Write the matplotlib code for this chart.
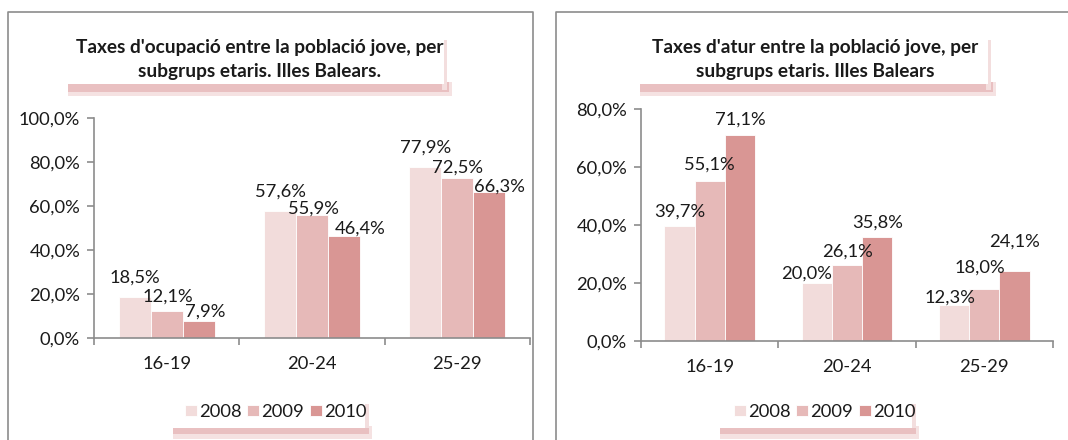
import matplotlib
matplotlib.use("Agg")
import matplotlib.pyplot as plt
import numpy as np
from matplotlib.patches import Rectangle

plt.rcParams['font.family'] = ['Lato', 'DejaVu Sans']

categories = ["16-19", "20-24", "25-29"]
years = ["2008", "2009", "2010"]
ocup_2008 = [18.5, 57.6, 77.9]
ocup_2009 = [12.1, 55.9, 72.5]
ocup_2010 = [7.9, 46.4, 66.3]
atur_2008 = [39.7, 20.0, 12.3]
atur_2009 = [55.1, 26.1, 18.0]
atur_2010 = [71.1, 35.8, 24.1]
title_ocup = "Taxes d'ocupació entre la població jove, per\nsubgrups etaris. Illes Balears."
title_atur = "Taxes d'atur entre la població jove, per\nsubgrups etaris. Illes Balears"

# label nudges (pixels) per series, per category -- layout only
ocup_label_dx = [[0, 0, 0], [1, 1, 0], [7, 16, 10]]
ocup_label_dy = [[15, 15, 14], [10, 1, 6], [4, 2, 1]]
atur_label_dx = [[0, -10, -4], [0, 0, -4], [0, 0, 0]]
atur_label_dy = [[9, 4, 3], [12, 9, 16], [10, 10, 24]]

colors = ["#f2dcdb", "#e6b9b8", "#d99694"]
W, H = 1068, 440
FS = 13.2
fig = plt.figure(figsize=(W / 100, H / 100), dpi=100)

bg = fig.add_axes([0, 0, 1, 1], zorder=0)
bg.set_xlim(0, W)
bg.set_ylim(H, 0)
bg.axis("off")

border = "#8c8c8c"
bg.plot([8, 8, 533, 533], [H + 5, 12, 12, H + 5], color=border, lw=1.2)
bg.plot([556, 556, W + 5], [H + 5, 12, 12], color=border, lw=1.2)


def shadow_box(x0, x1, y0, y1):
    bg.add_patch(Rectangle((x0, y1 - 2), x1 - x0 + 6, 14, color="#f5e2e2", lw=0, zorder=1))
    bg.add_patch(Rectangle((x0, y1 - 2), x1 - x0 + 3, 10, color="#e9c0c1", lw=0, zorder=1))
    bg.add_patch(Rectangle((x1 - 4, y0 + 6), 5, y1 - y0, color="#f3dede", lw=0, zorder=1))
    bg.add_patch(Rectangle((x0 - 2, y0), x1 - x0, y1 - y0, color="white", lw=0, zorder=2))


shadow_box(68, 446, 34, 84)
shadow_box(640, 990, 34, 84)
bg.text(260, 60, title_ocup, ha="center", va="center", fontsize=13.7, fontweight="bold",
        linespacing=1.5, color="#1a1a1a", zorder=3)
bg.text(815, 60, title_atur, ha="center", va="center", fontsize=13.7, fontweight="bold",
        linespacing=1.5, color="#1a1a1a", zorder=3)

for lx0, lx1 in [(173, 368), (720, 915)]:
    bg.add_patch(Rectangle((lx0, 426), lx1 - lx0 + 4, 13, color="#f5e2e2", lw=0, zorder=1))
    bg.add_patch(Rectangle((lx0, 426), lx1 - lx0 + 1, 8, color="#e9c0c1", lw=0, zorder=1))
    bg.add_patch(Rectangle((lx1 - 3, 404), 4, 24, color="#f3dede", lw=0, zorder=1))
    bg.add_patch(Rectangle((lx0 - 2, 398), lx1 - lx0 - 1, 30, color="white", lw=0, zorder=2))


def pct(v):
    return f"{v:.1f}%".replace(".", ",")


def make_chart(rect_px, ymax, series, ldx, ldy, legend_x):
    l, t, r, b = rect_px
    ax = fig.add_axes([l / W, 1 - b / H, (r - l) / W, (b - t) / H], zorder=2)
    ax.patch.set_alpha(0)
    x = np.arange(len(categories))
    bw = 0.22
    handles = []
    for i, (vals, c, yr) in enumerate(zip(series, colors, years)):
        v = np.array(vals) / 100
        bars = ax.bar(x + (i - 1) * bw, v, bw, color=c, edgecolor="white", linewidth=0.6, label=yr)
        handles.append(bars)
        for j, (xi, vi) in enumerate(zip(x + (i - 1) * bw, v)):
            ax.annotate(pct(vi * 100), (xi, vi), xytext=(ldx[i][j], ldy[i][j]),
                        textcoords="offset pixels", ha="center", va="baseline",
                        fontsize=FS, color="#1a1a1a", annotation_clip=False)
    ax.set_xlim(-0.5, 2.5)
    ax.set_ylim(0, ymax)
    ax.set_yticks(np.arange(0, ymax + 1e-9, 0.2))
    ax.yaxis.set_major_formatter(plt.FuncFormatter(lambda v, p: pct(v * 100)))
    ax.set_xticks(x)
    ax.set_xticklabels(categories)
    ax.set_xticks([-0.5, 0.5, 1.5, 2.5], minor=True)
    ax.tick_params(axis="x", which="major", length=0, pad=13, labelsize=FS, labelcolor="#1a1a1a")
    ax.tick_params(axis="x", which="minor", length=5, width=1.2, color=border, direction="out")
    ax.tick_params(axis="y", length=5, width=1.2, color=border, labelsize=FS, labelcolor="#1a1a1a", pad=5)
    for s in ["top", "right"]:
        ax.spines[s].set_visible(False)
    for s in ["left", "bottom"]:
        ax.spines[s].set_color(border)
        ax.spines[s].set_linewidth(1.2)
    leg = fig.legend(handles=handles, labels=years, loc="center left",
                     bbox_to_anchor=(legend_x / W, 1 - 412 / H), ncol=3, frameon=False,
                     fontsize=FS, handlelength=0.65, handleheight=0.6, handletextpad=0.12,
                     columnspacing=0.3, borderpad=0, borderaxespad=0)
    for t_ in leg.get_texts():
        t_.set_color("#1a1a1a")
    return ax


make_chart((94, 118, 530, 338), 1.0, [ocup_2008, ocup_2009, ocup_2010],
           ocup_label_dx, ocup_label_dy, 185)
make_chart((641, 109, 1053, 341), 0.8, [atur_2008, atur_2009, atur_2010],
           atur_label_dx, atur_label_dy, 734)

fig.savefig("out.png", dpi=100)
